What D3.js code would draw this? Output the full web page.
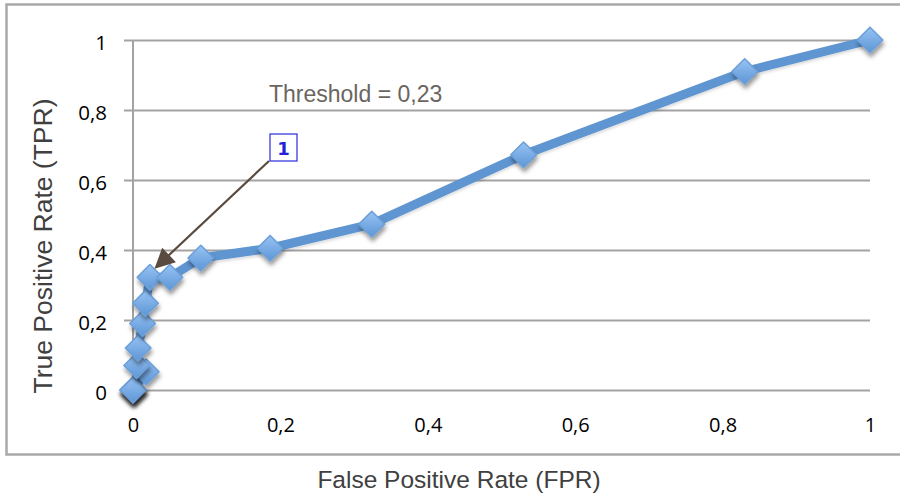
<!DOCTYPE html>
<html>
<head>
<meta charset="utf-8">
<script src="https://cdn.jsdelivr.net/npm/d3@7"></script>
<style>
  html, body { margin: 0; padding: 0; background: #fff; }
  svg { display: block; }
</style>
</head>
<body>
<svg id="chart" width="900" height="497"></svg>
<script>
// ROC curve points (FPR, TPR) ordered by decreasing threshold
const fpr = [0, 0, 0, 0, 0.018, 0.005, 0.007, 0.013, 0.017, 0.023, 0.05, 0.092, 0.186, 0.324, 0.53, 0.83, 1];
const tpr = [0, 0, 0, 0, 0.052, 0.07, 0.12, 0.19, 0.248, 0.322, 0.322, 0.377, 0.405, 0.474, 0.672, 0.91, 1];
const xTicks = [0, 0.2, 0.4, 0.6, 0.8, 1];
const yTicks = [0, 0.2, 0.4, 0.6, 0.8, 1];
const annotationLabel = "1";
const thresholdText = "Threshold = 0,23";
const annotatedIndex = 9;

const svg = d3.select("#chart");
const fmt = v => d3.format("~g")(v).replace(".", ",");

const x = d3.scaleLinear().domain([0, 1]).range([133, 870]);
const y = d3.scaleLinear().domain([0, 1]).range([390, 40]);

// outer frame
svg.append("rect")
  .attr("x", 6.5).attr("y", 4.5).attr("width", 900).attr("height", 450)
  .attr("fill", "none").attr("stroke", "#a9a9a9").attr("stroke-width", 2.5);

const defs = svg.append("defs");
const grad = defs.append("linearGradient").attr("id", "mk").attr("x1", 0).attr("y1", 0).attr("x2", 0).attr("y2", 1);
grad.append("stop").attr("offset", "0%").attr("stop-color", "#97c3f3");
grad.append("stop").attr("offset", "100%").attr("stop-color", "#5d96d6");
const sh = defs.append("filter").attr("id", "shadow").attr("x", "-50%").attr("y", "-50%").attr("width", "200%").attr("height", "200%");
sh.append("feDropShadow").attr("dx", 1).attr("dy", 4).attr("stdDeviation", 2.2)
  .attr("flood-color", "#000").attr("flood-opacity", 0.4);
const lsh = defs.append("filter").attr("id", "lshadow").attr("x", "-10%").attr("y", "-10%").attr("width", "120%").attr("height", "120%");
lsh.append("feDropShadow").attr("dx", 0).attr("dy", 2).attr("stdDeviation", 1.5)
  .attr("flood-color", "#000").attr("flood-opacity", 0.15);
defs.append("marker").attr("id", "arrow").attr("viewBox", "0 0 10 10")
  .attr("refX", 9).attr("refY", 5).attr("markerWidth", 26).attr("markerHeight", 20)
  .attr("markerUnits", "userSpaceOnUse").attr("orient", "auto")
  .append("path").attr("d", "M0,0 L10,5 L0,10 Z").attr("fill", "#5a4a3f");

// horizontal gridlines with left tick stubs
const yAxis = d3.axisLeft(y).tickValues(yTicks).tickSize(0).tickFormat(fmt);
const gy = svg.append("g").call(yAxis);
gy.select(".domain").remove();
gy.selectAll(".tick line").attr("x1", 124).attr("x2", 870).attr("stroke", "#a3a3a3").attr("stroke-width", 2);
gy.selectAll(".tick text").attr("x", 107).attr("dy", "0.45em").attr("text-anchor", "end")
  .attr("font-family", "'Open Sans', sans-serif").attr("font-size", 20.5).attr("fill", "#000");

// vertical axis line
svg.append("line").attr("x1", x(0)).attr("x2", x(0)).attr("y1", y(1)).attr("y2", y(0))
  .attr("stroke", "#a3a3a3").attr("stroke-width", 2);

// x axis labels
const xAxis = d3.axisBottom(x).tickValues(xTicks).tickSize(0).tickFormat(fmt).tickPadding(0);
const gx = svg.append("g").attr("transform", `translate(0,${y(0)})`).call(xAxis);
gx.select(".domain").remove();
gx.selectAll(".tick text").attr("y", 42).attr("dy", null)
  .attr("font-family", "'Open Sans', sans-serif").attr("font-size", 20).attr("fill", "#000");

// axis titles
svg.append("text").attr("x", 459).attr("y", 488).attr("text-anchor", "middle")
  .attr("font-family", "'Liberation Sans', Arial, sans-serif").attr("font-size", 24.5).attr("fill", "#404040")
  .text("False Positive Rate (FPR)");
svg.append("text").attr("transform", "translate(52,246) rotate(-90)").attr("text-anchor", "middle")
  .attr("font-family", "'Liberation Sans', Arial, sans-serif").attr("font-size", 26.5).attr("fill", "#404040")
  .text("True Positive Rate (TPR)");

// curve
const pts = fpr.map((f, i) => [f, tpr[i]]);
svg.append("path").datum(pts)
  .attr("d", d3.line().x(d => x(d[0])).y(d => y(d[1])))
  .attr("fill", "none").attr("stroke", "#5f95d0").attr("stroke-width", 9)
  .attr("stroke-linejoin", "round").attr("filter", "url(#lshadow)");

// diamond markers
const diamond = d3.symbol().type(d3.symbolDiamond2).size(420);
svg.append("g").selectAll("path").data(pts).join("path")
  .attr("d", diamond)
  .attr("transform", d => `translate(${x(d[0])},${y(d[1])})`)
  .attr("fill", "url(#mk)").attr("stroke", "#6c9fd8").attr("stroke-width", 1.5)
  .attr("stroke-linejoin", "round")
  .attr("filter", "url(#shadow)");

// threshold annotation
svg.append("text").attr("x", 269).attr("y", 102)
  .attr("font-family", "'Liberation Sans', Arial, sans-serif").attr("font-size", 23).attr("fill", "#6b6560")
  .text(thresholdText);

const bx = 270, byTop = 134;
svg.append("rect").attr("x", bx).attr("y", byTop).attr("width", 27).attr("height", 27)
  .attr("fill", "#fff").attr("stroke", "#2a2ae0").attr("stroke-width", 1.2);
svg.append("text").attr("x", bx + 13.5).attr("y", byTop + 21).attr("text-anchor", "middle")
  .attr("font-family", "'DejaVu Sans', sans-serif").attr("font-weight", "bold").attr("font-size", 18)
  .attr("fill", "#2222dd").text(annotationLabel);

const target = pts[annotatedIndex];
svg.append("line").attr("x1", bx - 1).attr("y1", byTop + 27)
  .attr("x2", x(target[0]) + 6).attr("y2", y(target[1]) - 10)
  .attr("stroke", "#5a4a3f").attr("stroke-width", 2.2).attr("marker-end", "url(#arrow)");
</script>
</body>
</html>
